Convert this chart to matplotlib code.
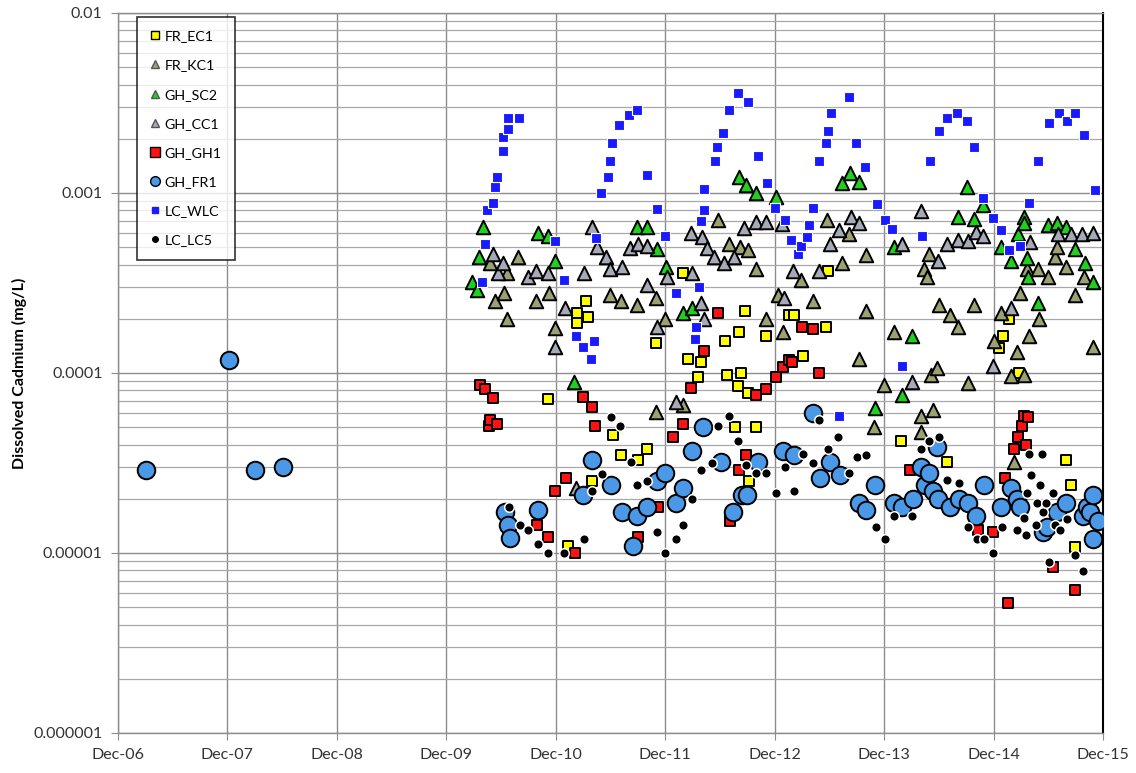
import matplotlib
matplotlib.use("Agg")
import matplotlib.pyplot as plt
import matplotlib.dates as mdates
from matplotlib.lines import Line2D
from matplotlib.ticker import FixedLocator, FixedFormatter, LogLocator, NullFormatter
from datetime import datetime, timedelta

plt.rcParams['font.family'] = ['Lato', 'DejaVu Sans']

# sample times as decimal years, dissolved cadmium in mg/L
fr_ec1_t = [2010.84, 2011.03, 2011.11, 2011.11, 2011.19, 2011.21, 2011.25, 2011.44, 2011.51, 2011.67,
            2011.75, 2011.83, 2012.08, 2012.12, 2012.21, 2012.24, 2012.46, 2012.48, 2012.55, 2012.58,
            2012.59, 2012.61, 2012.64, 2012.67, 2012.68, 2012.74, 2012.83, 2013.04, 2013.09, 2013.17,
            2013.38, 2013.40, 2014.07, 2014.49, 2014.96, 2015.00, 2015.06, 2015.15, 2015.58, 2015.62,
            2015.66]
fr_ec1_v = [7.2e-5, 1.1e-5, 2.15e-4, 1.9e-4, 2.5e-4, 2.05e-4, 2.5e-5, 4.5e-5, 3.5e-5, 3.3e-5,
            3.8e-5, 1.47e-4, 3.6e-4, 1.2e-4, 9.5e-5, 1.15e-4, 1.5e-4, 9.7e-5, 5.0e-5, 8.5e-5,
            1.7e-4, 1.0e-4, 2.2e-4, 7.7e-5, 2.5e-5, 5.0e-5, 1.6e-4, 2.1e-4, 2.1e-4, 1.24e-4,
            1.8e-4, 3.7e-4, 4.2e-5, 3.2e-5, 1.38e-4, 1.6e-4, 2.0e-4, 1.0e-4, 3.3e-5, 2.4e-5,
            1.08e-5]

fr_kc1_t = [2010.31, 2010.36, 2010.44, 2010.47, 2010.47, 2010.57, 2010.73, 2010.85, 2010.91, 2011.41,
            2011.51, 2011.66, 2011.83, 2011.83, 2011.91, 2012.08, 2012.40, 2012.50, 2012.60, 2012.67,
            2012.74, 2012.83, 2012.94, 2012.99, 2013.15, 2013.26, 2013.39, 2013.53, 2013.59, 2013.68,
            2013.75, 2013.75, 2013.82, 2013.91, 2014.00, 2014.25, 2014.25, 2014.28, 2014.31, 2014.32,
            2014.34, 2014.36, 2014.40, 2014.42, 2014.52, 2014.59, 2014.68, 2014.74, 2014.92, 2014.98,
            2015.07, 2015.10, 2015.13, 2015.16, 2015.19, 2015.22, 2015.24, 2015.32, 2015.33, 2015.41,
            2015.48, 2015.49, 2015.58, 2015.66, 2015.74, 2015.82]
fr_kc1_v = [4.1e-4, 2.5e-4, 2.8e-4, 3.6e-4, 2.0e-4, 4.4e-4, 2.5e-4, 2.8e-4, 1.78e-4, 2.7e-4,
            2.5e-4, 2.4e-4, 2.6e-4, 6.1e-5, 2.0e-4, 6.6e-5, 7.1e-4, 5.2e-4, 5.0e-4, 4.8e-4,
            3.8e-4, 2.0e-4, 2.7e-4, 1.7e-4, 3.3e-4, 2.5e-4, 7.1e-4, 4.1e-4, 5.9e-4, 1.2e-4,
            4.5e-4, 2.2e-4, 5.0e-5, 8.6e-5, 1.7e-4, 5.8e-5, 4.7e-5, 3.8e-4, 3.4e-4, 4.6e-4,
            9.7e-5, 6.2e-5, 1.07e-4, 2.4e-4, 2.1e-4, 1.8e-4, 8.8e-5, 2.4e-4, 1.5e-4, 2.15e-4,
            9.6e-5, 3.2e-5, 1.3e-4, 2.8e-4, 9.7e-5, 3.8e-4, 1.6e-4, 3.8e-4, 2.0e-4, 3.4e-4,
            4.4e-4, 5.0e-4, 3.9e-4, 2.7e-4, 3.4e-4, 1.4e-4]

gh_sc2_t = [2010.15, 2010.19, 2010.21, 2010.25, 2010.75, 2010.84, 2010.91, 2011.08, 2011.66, 2011.75,
            2011.84, 2011.92, 2012.08, 2012.16, 2012.59, 2012.65, 2012.74, 2012.93, 2013.53, 2013.60,
            2013.68, 2013.83, 2014.00, 2014.08, 2014.17, 2014.59, 2014.67, 2014.74, 2014.82, 2014.98,
            2015.07, 2015.14, 2015.19, 2015.19, 2015.22, 2015.23, 2015.32, 2015.41, 2015.49, 2015.58,
            2015.66, 2015.75, 2015.82]
gh_sc2_v = [3.2e-4, 2.9e-4, 4.4e-4, 6.5e-4, 6.0e-4, 5.8e-4, 4.2e-4, 8.9e-5, 6.5e-4, 6.5e-4,
            4.9e-4, 3.9e-4, 2.15e-4, 2.3e-4, 1.23e-3, 1.11e-3, 1.0e-3, 9.5e-4, 1.14e-3, 1.29e-3,
            1.15e-3, 6.4e-5, 5.0e-4, 7.5e-5, 1.6e-4, 7.4e-4, 1.08e-3, 7.2e-4, 8.6e-4, 5.0e-4,
            4.2e-4, 5.9e-4, 7.4e-4, 6.8e-4, 4.35e-4, 3.4e-4, 2.45e-4, 6.6e-4, 6.8e-4, 6.5e-4,
            4.9e-4, 4.1e-4, 3.2e-4]

gh_cc1_t = [2010.34, 2010.39, 2010.43, 2010.66, 2010.73, 2010.84, 2010.91, 2011.00, 2011.10, 2011.17,
            2011.25, 2011.29, 2011.37, 2011.41, 2011.52, 2011.59, 2011.67, 2011.75, 2011.75, 2011.84,
            2011.93, 2012.01, 2012.15, 2012.16, 2012.25, 2012.24, 2012.27, 2012.30, 2012.36, 2012.45,
            2012.54, 2012.63, 2012.74, 2012.83, 2012.98, 2013.00, 2013.08, 2013.32, 2013.42, 2013.50,
            2013.61, 2013.68, 2014.08, 2014.17, 2014.25, 2014.41, 2014.49, 2014.59, 2014.68, 2014.75,
            2014.82, 2014.91, 2015.07, 2015.25, 2015.50, 2015.62, 2015.72, 2015.82]
gh_cc1_v = [4.6e-4, 3.6e-4, 4.1e-4, 3.4e-4, 3.7e-4, 3.6e-4, 1.4e-4, 2.3e-4, 2.3e-5, 3.6e-4,
            6.5e-4, 5.0e-4, 4.4e-4, 3.8e-4, 3.9e-4, 4.95e-4, 5.2e-4, 5.1e-4, 3.1e-4, 1.8e-4,
            3.4e-4, 6.9e-5, 6.0e-4, 3.6e-4, 5.7e-4, 2.45e-4, 2.0e-4, 4.95e-4, 4.4e-4, 4.1e-4,
            4.4e-4, 6.4e-4, 6.9e-4, 6.9e-4, 6.7e-4, 2.6e-4, 3.7e-4, 3.7e-4, 5.2e-4, 6.2e-4,
            7.4e-4, 6.8e-4, 5.2e-4, 8.9e-5, 7.9e-4, 4.2e-4, 5.2e-4, 5.5e-4, 5.4e-4, 6.1e-4,
            5.8e-4, 1.1e-4, 2.3e-4, 5.35e-4, 5.9e-4, 5.9e-4, 5.9e-4, 6.0e-4]

gh_gh1_t = [2010.22, 2010.27, 2010.30, 2010.31, 2010.34, 2010.38, 2010.74, 2010.84, 2010.91, 2011.01,
            2011.09, 2011.16, 2011.25, 2011.27, 2011.67, 2011.85, 2011.99, 2012.08, 2012.15, 2012.27,
            2012.40, 2012.51, 2012.59, 2012.65, 2012.74, 2012.83, 2012.93, 2012.99, 2013.04, 2013.07,
            2013.16, 2013.26, 2013.32, 2014.15, 2014.77, 2014.91, 2015.02, 2015.05, 2015.10, 2015.14,
            2015.17, 2015.19, 2015.23, 2015.21, 2015.46, 2015.66]
gh_gh1_v = [8.6e-5, 8.1e-5, 5.1e-5, 5.5e-5, 7.3e-5, 5.2e-5, 1.43e-5, 1.23e-5, 2.2e-5, 2.6e-5,
            1.0e-5, 7.4e-5, 6.5e-5, 5.1e-5, 1.23e-5, 1.8e-5, 4.4e-5, 5.2e-5, 8.25e-5, 1.32e-4,
            2.15e-4, 1.5e-5, 2.9e-5, 3.5e-5, 7.5e-5, 8.1e-5, 9.5e-5, 1.08e-4, 1.18e-4, 1.15e-4,
            1.8e-4, 1.75e-4, 1.0e-4, 2.9e-5, 1.34e-5, 1.3e-5, 2.6e-5, 5.3e-6, 3.8e-5, 4.4e-5,
            5.1e-5, 5.8e-5, 5.7e-5, 4.0e-5, 8.4e-6, 6.2e-6]

gh_fr1_t = [2007.17, 2007.93, 2008.17, 2008.42,
            2010.45, 2010.48, 2010.50, 2010.75, 2011.16, 2011.25, 2011.42, 2011.52, 2011.62, 2011.66,
            2011.75, 2011.84, 2011.91, 2012.01, 2012.08, 2012.16, 2012.26, 2012.42, 2012.53, 2012.62,
            2012.66, 2012.76, 2012.99, 2013.09, 2013.26, 2013.33, 2013.42, 2013.51, 2013.68, 2013.75,
            2013.83, 2014.00, 2014.08, 2014.18, 2014.25, 2014.29, 2014.32, 2014.36, 2014.40, 2014.41,
            2014.52, 2014.60, 2014.68, 2014.75, 2014.83, 2014.98, 2015.07, 2015.13, 2015.16, 2015.37,
            2015.40, 2015.49, 2015.58, 2015.73, 2015.77, 2015.80, 2015.82, 2015.87, 2015.82]
gh_fr1_v = [2.9e-5, 1.18e-4, 2.9e-5, 3.0e-5,
            1.69e-5, 1.43e-5, 1.21e-5, 1.74e-5, 2.1e-5, 3.3e-5, 2.4e-5, 1.7e-5, 1.1e-5, 1.6e-5,
            1.8e-5, 2.5e-5, 2.8e-5, 1.9e-5, 2.3e-5, 3.7e-5, 5.0e-5, 3.2e-5, 1.7e-5, 2.1e-5,
            2.1e-5, 3.2e-5, 3.7e-5, 3.5e-5, 6.0e-5, 2.6e-5, 3.2e-5, 2.7e-5, 1.9e-5, 1.74e-5,
            2.4e-5, 1.9e-5, 1.8e-5, 2.0e-5, 3.0e-5, 2.4e-5, 2.8e-5, 2.2e-5, 3.9e-5, 2.0e-5,
            1.8e-5, 2.0e-5, 1.9e-5, 1.6e-5, 2.4e-5, 1.8e-5, 2.3e-5, 2.0e-5, 1.8e-5, 1.3e-5,
            1.4e-5, 1.7e-5, 1.9e-5, 1.6e-5, 1.8e-5, 1.7e-5, 2.1e-5, 1.5e-5, 1.2e-5]

lc_wlc_t = [2010.24, 2010.27, 2010.29, 2010.34, 2010.36, 2010.38, 2010.43, 2010.43, 2010.48, 2010.48,
            2010.58, 2010.91, 2010.99, 2011.10, 2011.16, 2011.24, 2011.26, 2011.28, 2011.33, 2011.39,
            2011.41, 2011.43, 2011.49, 2011.58, 2011.66, 2011.75, 2011.84, 2011.91, 2012.01, 2012.19,
            2012.20, 2012.22, 2012.24, 2012.27, 2012.27, 2012.37, 2012.39, 2012.44, 2012.50, 2012.58,
            2012.67, 2012.76, 2012.84, 2012.92, 2013.01, 2013.06, 2013.13, 2013.15, 2013.21, 2013.23,
            2013.26, 2013.32, 2013.38, 2013.40, 2013.43, 2013.50, 2013.59, 2013.66, 2013.74, 2013.85,
            2013.92, 2013.99, 2014.08, 2014.26, 2014.33, 2014.42, 2014.49, 2014.58, 2014.67, 2014.74,
            2014.82, 2014.91, 2014.98, 2015.06, 2015.16, 2015.24, 2015.32, 2015.42, 2015.51, 2015.59,
            2015.66, 2015.74, 2015.84]
lc_wlc_v = [3.2e-4, 5.2e-4, 8.0e-4, 8.8e-4, 1.08e-3, 1.23e-3, 1.71e-3, 2.05e-3, 2.27e-3, 2.6e-3,
            2.6e-3, 5.4e-4, 3.3e-4, 1.6e-4, 1.4e-4, 1.2e-4, 1.5e-4, 5.6e-4, 1.0e-3, 1.23e-3,
            1.5e-3, 1.9e-3, 2.4e-3, 2.7e-3, 2.9e-3, 1.26e-3, 8.1e-4, 5.8e-4, 2.8e-4, 1.54e-4,
            1.8e-4, 3.0e-4, 7.0e-4, 8.0e-4, 1.05e-3, 1.5e-3, 1.8e-3, 2.15e-3, 2.9e-3, 3.6e-3,
            3.2e-3, 1.6e-3, 1.14e-3, 8.3e-4, 7.1e-4, 5.5e-4, 4.6e-4, 5.1e-4, 5.7e-4, 6.6e-4,
            8.3e-4, 1.5e-3, 1.9e-3, 2.2e-3, 2.8e-3, 5.8e-5, 3.4e-3, 1.9e-3, 1.4e-3, 8.7e-4,
            7.1e-4, 6.3e-4, 1.09e-4, 5.8e-4, 1.5e-3, 2.2e-3, 2.6e-3, 2.8e-3, 2.5e-3, 1.8e-3,
            9.4e-4, 7.3e-4, 6.2e-4, 4.8e-4, 5.1e-4, 8.8e-4, 1.5e-3, 2.45e-3, 2.8e-3, 2.5e-3,
            2.8e-3, 2.1e-3, 1.04e-3]

lc_lc5_t = [2010.49, 2010.59, 2010.66, 2010.75, 2010.84, 2010.99, 2011.17, 2011.25, 2011.34, 2011.42,
            2011.50, 2011.60, 2011.66, 2011.75, 2011.84, 2011.91, 2012.01, 2012.08, 2012.16, 2012.24,
            2012.34, 2012.40, 2012.50, 2012.58, 2012.65, 2012.74, 2012.83, 2012.93, 2013.01, 2013.09,
            2013.17, 2013.26, 2013.32, 2013.40, 2013.49, 2013.59, 2013.67, 2013.75, 2013.84, 2013.92,
            2014.00, 2014.17, 2014.25, 2014.32, 2014.42, 2014.49, 2014.60, 2014.68, 2014.76, 2014.83,
            2014.91, 2014.99, 2015.13, 2015.19, 2015.21, 2015.22, 2015.24, 2015.26, 2015.30, 2015.31,
            2015.34, 2015.36, 2015.37, 2015.39, 2015.42, 2015.46, 2015.48, 2015.52, 2015.59, 2015.66,
            2015.73]
lc_lc5_v = [1.8e-5, 1.43e-5, 1.34e-5, 1.12e-5, 1.0e-5, 1.0e-5, 1.2e-5, 2.2e-5, 2.75e-5, 5.7e-5,
            5.1e-5, 3.2e-5, 2.4e-5, 2.5e-5, 1.3e-5, 1.0e-5, 1.2e-5, 1.43e-5, 2.0e-5, 2.9e-5,
            3.15e-5, 5.1e-5, 5.8e-5, 4.2e-5, 3.1e-5, 2.8e-5, 2.8e-5, 2.15e-5, 3.0e-5, 2.2e-5,
            3.55e-5, 3.15e-5, 5.5e-5, 3.8e-5, 4.4e-5, 2.8e-5, 3.4e-5, 3.5e-5, 1.4e-5, 1.2e-5,
            1.6e-5, 1.6e-5, 3.8e-5, 4.2e-5, 4.4e-5, 2.55e-5, 2.45e-5, 1.4e-5, 1.2e-5, 1.2e-5,
            1.0e-5, 1.4e-5, 1.34e-5, 1.56e-5, 1.26e-5, 2.15e-5, 3.55e-5, 2.7e-5, 1.43e-5, 1.9e-5,
            2.4e-5, 3.55e-5, 1.7e-5, 1.9e-5, 8.9e-6, 2.15e-5, 1.43e-5, 1.34e-5, 1.55e-5, 9.7e-6,
            7.9e-6]

year_ticks = list(range(2006, 2016))
y_ticks = [1e-6, 1e-5, 1e-4, 1e-3, 1e-2]
y_tick_labels = ["0.000001", "0.00001", "0.0001", "0.001", "0.01"]


def to_dates(years):
    out = []
    for y in years:
        yr = int(y)
        start = datetime(yr, 1, 1)
        span = (datetime(yr + 1, 1, 1) - start).days
        out.append(start + timedelta(days=(y - yr) * span))
    return out


series = [
    ("FR_EC1", fr_ec1_t, fr_ec1_v, dict(marker="s", s=62, c="#ffff00", edgecolors="black", linewidths=1.4)),
    ("FR_KC1", fr_kc1_t, fr_kc1_v, dict(marker="^", s=95, c="#9ca173", edgecolors="black", linewidths=1.4)),
    ("GH_SC2", gh_sc2_t, gh_sc2_v, dict(marker="^", s=95, c="#1fd01f", edgecolors="black", linewidths=1.4)),
    ("GH_CC1", gh_cc1_t, gh_cc1_v, dict(marker="^", s=95, c="#a6a9b6", edgecolors="black", linewidths=1.4)),
    ("GH_GH1", gh_gh1_t, gh_gh1_v, dict(marker="s", s=62, c="#ff1111", edgecolors="black", linewidths=1.4)),
    ("GH_FR1", gh_fr1_t, gh_fr1_v, dict(marker="o", s=160, c="#4a98e6", edgecolors="black", linewidths=1.4)),
    ("LC_WLC", lc_wlc_t, lc_wlc_v, dict(marker="s", s=62, c="#1a1aff", edgecolors="white", linewidths=0.8)),
    ("LC_LC5", lc_lc5_t, lc_lc5_v, dict(marker="o", s=48, c="black", edgecolors="white", linewidths=1.1)),
]

legend_style = {
    "FR_EC1": dict(marker="s", markersize=6, markerfacecolor="#ffff00", markeredgecolor="black"),
    "FR_KC1": dict(marker="^", markersize=6, markerfacecolor="#9ca173", markeredgecolor="#555555"),
    "GH_SC2": dict(marker="^", markersize=6, markerfacecolor="#1fd01f", markeredgecolor="#555555"),
    "GH_CC1": dict(marker="^", markersize=6, markerfacecolor="#a6a9b6", markeredgecolor="#555555"),
    "GH_GH1": dict(marker="s", markersize=7, markerfacecolor="#ff1111", markeredgecolor="black"),
    "GH_FR1": dict(marker="o", markersize=7, markerfacecolor="#4a98e6", markeredgecolor="black"),
    "LC_WLC": dict(marker="s", markersize=5, markerfacecolor="#1a1aff", markeredgecolor="#1a1aff"),
    "LC_LC5": dict(marker="o", markersize=4, markerfacecolor="black", markeredgecolor="black"),
}

fig = plt.figure(figsize=(11.36, 7.73), dpi=100)
ax = fig.add_axes([118 / 1136, 1 - 733 / 773, 985 / 1136, 720 / 773])

for i, (name, t, v, style) in enumerate(series):
    ax.scatter(to_dates(t), v, zorder=3 + i, **style)

ax.set_yscale("log")
ax.set_ylim(1e-6, 1e-2)
ax.set_xlim(datetime(2006, 12, 1), datetime(2015, 12, 1))

ax.yaxis.set_major_locator(FixedLocator(y_ticks))
ax.yaxis.set_major_formatter(FixedFormatter(y_tick_labels))
ax.yaxis.set_minor_locator(LogLocator(base=10, subs=range(2, 10)))
ax.yaxis.set_minor_formatter(NullFormatter())

ax.set_xticks([datetime(y, 12, 1) for y in year_ticks])
ax.xaxis.set_major_formatter(mdates.DateFormatter("%b-%y"))

ax.grid(True, which="major", axis="both", color="#8c8c8c", linewidth=1.0, zorder=0)
ax.grid(True, which="minor", axis="y", color="#a8a8a8", linewidth=0.9, zorder=0)
ax.set_axisbelow(True)

for side in ("left", "bottom", "top"):
    ax.spines[side].set_color("#8c8c8c")
    ax.spines[side].set_linewidth(1.0)
ax.spines["right"].set_color("black")
ax.spines["right"].set_linewidth(1.5)

ax.tick_params(axis="both", which="major", direction="out", length=5, color="#8c8c8c",
               labelsize=11.5, labelcolor="#333333", pad=6)
ax.tick_params(axis="y", which="minor", length=0)

ax.set_ylabel("Dissolved Cadmium (mg/L)", fontsize=11.5, fontweight="bold", labelpad=5)

handles = [Line2D([], [], linestyle="none", **legend_style[name]) for name, _, _, _ in series]
labels = [name for name, _, _, _ in series]
leg = ax.legend(handles, labels, loc="upper left", bbox_to_anchor=(0.019, 0.995),
                fontsize=10.3, labelspacing=1.2, handlelength=0.7, handletextpad=0.3,
                borderpad=0.95, borderaxespad=0, frameon=True, fancybox=False)
leg.get_frame().set_edgecolor("black")
leg.get_frame().set_linewidth(1.2)
leg.set_zorder(20)

fig.savefig("out.png", dpi=100)
